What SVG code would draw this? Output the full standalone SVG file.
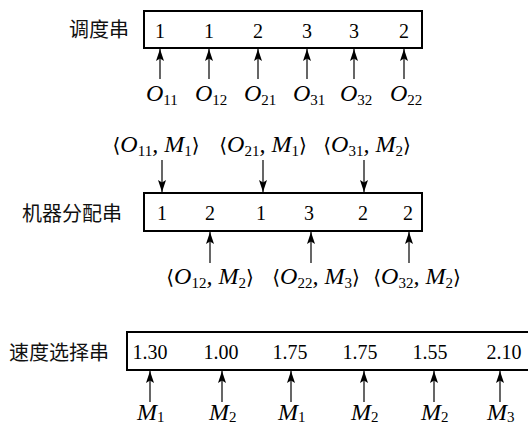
<svg xmlns="http://www.w3.org/2000/svg" width="528" height="425" viewBox="0 0 528 425">
<defs>
<marker id="ah" markerUnits="userSpaceOnUse" markerWidth="12" markerHeight="8" viewBox="0 0 12 8" refX="12" refY="4" orient="auto">
<path d="M0,0 L12,4 L0,8 L2.5,4 Z" fill="#000"/>
</marker>
</defs>
<style>
.box{fill:#fff;stroke:#000;stroke-width:2}
.cn{font-family:"Noto Sans CJK SC","Noto Sans CJK JP",sans-serif;font-size:20px;fill:#111}
.num{font-family:"Liberation Serif","Times New Roman",serif;font-size:20px;fill:#000;text-anchor:middle}
.it{font-family:"Liberation Serif","DejaVu Serif",serif;font-size:24px;font-style:italic;fill:#000}
.sub{font-size:15px;font-style:normal}
.br{font-style:normal;font-family:"DejaVu Serif","Liberation Serif",serif;font-size:20px}
.mid{text-anchor:middle}
.arr{stroke:#000;stroke-width:1.2;fill:none}
</style>
<g id="connectors">
<line class="arr" x1="160" y1="79" x2="160" y2="49" marker-end="url(#ah)"/>
<line class="arr" x1="209" y1="79" x2="209" y2="49" marker-end="url(#ah)"/>
<line class="arr" x1="258" y1="79" x2="258" y2="49" marker-end="url(#ah)"/>
<line class="arr" x1="307" y1="79" x2="307" y2="49" marker-end="url(#ah)"/>
<line class="arr" x1="354" y1="79" x2="354" y2="49" marker-end="url(#ah)"/>
<line class="arr" x1="404" y1="79" x2="404" y2="49" marker-end="url(#ah)"/>
<line class="arr" x1="162" y1="160" x2="162" y2="192" marker-end="url(#ah)"/>
<line class="arr" x1="263" y1="160" x2="263" y2="192" marker-end="url(#ah)"/>
<line class="arr" x1="364" y1="160" x2="364" y2="192" marker-end="url(#ah)"/>
<line class="arr" x1="210" y1="263" x2="210" y2="232" marker-end="url(#ah)"/>
<line class="arr" x1="311" y1="263" x2="311" y2="232" marker-end="url(#ah)"/>
<line class="arr" x1="409" y1="263" x2="409" y2="232" marker-end="url(#ah)"/>
<line class="arr" x1="150" y1="402" x2="150" y2="371" marker-end="url(#ah)"/>
<line class="arr" x1="222" y1="402" x2="222" y2="371" marker-end="url(#ah)"/>
<line class="arr" x1="291" y1="402" x2="291" y2="371" marker-end="url(#ah)"/>
<line class="arr" x1="364" y1="402" x2="364" y2="371" marker-end="url(#ah)"/>
<line class="arr" x1="434" y1="402" x2="434" y2="371" marker-end="url(#ah)"/>
<line class="arr" x1="500" y1="402" x2="500" y2="371" marker-end="url(#ah)"/>
</g>
<g id="schedule">
<text class="cn" x="69" y="37">调度串</text>
<rect class="box" x="144" y="11" width="278" height="37"/>
<text class="num" x="160" y="38">1</text>
<text class="num" x="209" y="38">1</text>
<text class="num" x="258" y="38">2</text>
<text class="num" x="307" y="38">3</text>
<text class="num" x="354" y="38">3</text>
<text class="num" x="404" y="38">2</text>
<text class="it" x="146" y="101">O<tspan class="sub" dy="4">11</tspan></text>
<text class="it" x="195" y="101">O<tspan class="sub" dy="4">12</tspan></text>
<text class="it" x="244" y="101">O<tspan class="sub" dy="4">21</tspan></text>
<text class="it" x="293" y="101">O<tspan class="sub" dy="4">31</tspan></text>
<text class="it" x="340" y="101">O<tspan class="sub" dy="4">32</tspan></text>
<text class="it" x="390" y="101">O<tspan class="sub" dy="4">22</tspan></text>
</g>
<g id="machine">
<text class="cn" x="22" y="221">机器分配串</text>
<rect class="box" x="144" y="193" width="278" height="38"/>
<text class="num" x="162" y="220">1</text>
<text class="num" x="210" y="220">2</text>
<text class="num" x="261" y="220">1</text>
<text class="num" x="309" y="220">3</text>
<text class="num" x="363" y="220">2</text>
<text class="num" x="408" y="220">2</text>
<text class="it mid" x="156" y="152"><tspan class="br">⟨</tspan>O<tspan class="sub" dy="4">11</tspan><tspan dy="-4">, M</tspan><tspan class="sub" dy="4">1</tspan><tspan class="br" dy="-4">⟩</tspan></text>
<text class="it mid" x="263" y="152"><tspan class="br">⟨</tspan>O<tspan class="sub" dy="4">21</tspan><tspan dy="-4">, M</tspan><tspan class="sub" dy="4">1</tspan><tspan class="br" dy="-4">⟩</tspan></text>
<text class="it mid" x="367" y="152"><tspan class="br">⟨</tspan>O<tspan class="sub" dy="4">31</tspan><tspan dy="-4">, M</tspan><tspan class="sub" dy="4">2</tspan><tspan class="br" dy="-4">⟩</tspan></text>
<text class="it mid" x="210" y="284"><tspan class="br">⟨</tspan>O<tspan class="sub" dy="4">12</tspan><tspan dy="-4">, M</tspan><tspan class="sub" dy="4">2</tspan><tspan class="br" dy="-4">⟩</tspan></text>
<text class="it mid" x="316" y="284"><tspan class="br">⟨</tspan>O<tspan class="sub" dy="4">22</tspan><tspan dy="-4">, M</tspan><tspan class="sub" dy="4">3</tspan><tspan class="br" dy="-4">⟩</tspan></text>
<text class="it mid" x="417" y="284"><tspan class="br">⟨</tspan>O<tspan class="sub" dy="4">32</tspan><tspan dy="-4">, M</tspan><tspan class="sub" dy="4">2</tspan><tspan class="br" dy="-4">⟩</tspan></text>
</g>
<g id="speed">
<text class="cn" x="9" y="360">速度选择串</text>
<rect class="box" x="127" y="332" width="420" height="38"/>
<text class="num" x="150" y="359">1.30</text>
<text class="num" x="221" y="359">1.00</text>
<text class="num" x="290" y="359">1.75</text>
<text class="num" x="360" y="359">1.75</text>
<text class="num" x="430" y="359">1.55</text>
<text class="num" x="504" y="359">2.10</text>
<text class="it" x="137" y="420">M<tspan class="sub" dy="2">1</tspan></text>
<text class="it" x="209" y="420">M<tspan class="sub" dy="2">2</tspan></text>
<text class="it" x="278" y="420">M<tspan class="sub" dy="2">1</tspan></text>
<text class="it" x="351" y="420">M<tspan class="sub" dy="2">2</tspan></text>
<text class="it" x="421" y="420">M<tspan class="sub" dy="2">2</tspan></text>
<text class="it" x="487" y="420">M<tspan class="sub" dy="2">3</tspan></text>
</g>
</svg>
